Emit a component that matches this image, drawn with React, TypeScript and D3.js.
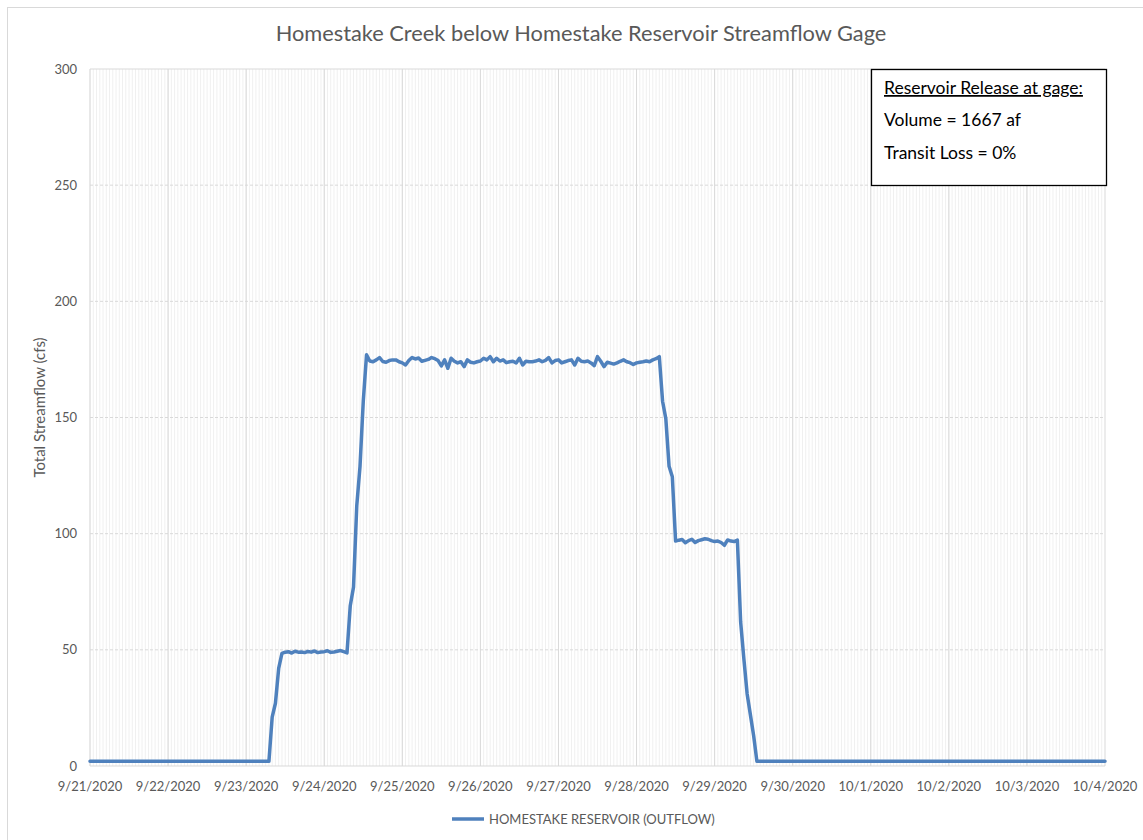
import * as d3 from "d3";

// hourly gage readings (cfs), starting 9/23/2020 07:00
const firstStep = [2, 21, 27, 42, 48.5];
const lowPlateau = [
  49, 49.2, 48.6, 49.4, 49, 49.1, 48.8, 49.3, 49, 49.5,
  48.8, 49.1, 49.2, 49.6, 48.9, 49.1, 49.4, 49.7, 49.2, 48.7,
];
const secondRise = [69, 77, 112, 129, 157];
const highPlateau = [
  177, 174.3, 174, 174.8, 175.8, 174.1, 173.8, 174.5, 174.8, 174.8,
  174, 173.5, 172.6, 174.5, 175.8, 175.2, 175.6, 174.2, 174.6, 175,
  175.8, 175.3, 174.5, 172.2, 174.8, 171.2, 175.5, 174.2, 173.5, 174,
  171.9, 174.8, 173.8, 173.5, 174, 174.3, 175.5, 174.8, 176.2, 174,
  175.5, 174.3, 174.8, 173.6, 174, 174.2, 173.5, 175.5, 172.6, 174.2,
  174, 174, 174.3, 174.8, 174, 174.6, 175.8, 173.5, 174.5, 174.8,
  173.5, 174, 174.5, 174.8, 172.6, 175.5, 174.2, 174, 174.3, 173.5,
  172.3, 176.2, 174.2, 171.9, 173.8, 173.4, 173, 173.5, 174.2, 174.8,
  174, 173.6, 172.8, 173.5, 173.8, 174, 174.3, 174, 174.8, 175.3, 176.2,
];
const firstDrop = [157, 149.5, 129, 124.5];
const midPlateau = [
  96.8, 97.2, 97.5, 96.1, 97, 97.6, 96.2, 97, 97.4, 97.8,
  97.6, 97, 96.6, 96.8, 96.2, 95, 97.3, 96.8, 96.6, 97.2,
];
const finalDrop = [62, 46, 31, 22, 13, 2];

const baseFlow = 2;
const releaseStart = new Date(2020, 8, 23, 7);
const domainStart = new Date(2020, 8, 21);
const domainEnd = new Date(2020, 9, 4);

const yTicks = [0, 50, 100, 150, 200, 250, 300];
const dayLabels = [
  "9/21/2020", "9/22/2020", "9/23/2020", "9/24/2020", "9/25/2020",
  "9/26/2020", "9/27/2020", "9/28/2020", "9/29/2020", "9/30/2020",
  "10/1/2020", "10/2/2020", "10/3/2020", "10/4/2020",
];

const seriesName = "HOMESTAKE RESERVOIR (OUTFLOW)";
const title = "Homestake Creek below Homestake Reservoir Streamflow Gage";
const boxLines = ["Reservoir Release at gage:", "Volume = 1667  af", "Transit Loss = 0%"];

interface Point {
  t: Date;
  v: number;
}

const releaseFlows = [
  ...firstStep, ...lowPlateau, ...secondRise, ...highPlateau,
  ...firstDrop, ...midPlateau, ...finalDrop,
];

const points: Point[] = [
  { t: domainStart, v: baseFlow },
  ...releaseFlows.map((v, i) => ({ t: d3.timeHour.offset(releaseStart, i), v })),
  { t: domainEnd, v: baseFlow },
];

const W = 1143;
const H = 840;
const margin = { top: 69, right: 38, bottom: 74, left: 90 };
const font = "Lato, 'Open Sans', sans-serif";
const grey = "#595959";

export default function App() {
  const x = d3.scaleTime().domain([domainStart, domainEnd]).range([margin.left, W - margin.right]);
  const y = d3.scaleLinear().domain([0, 300]).range([H - margin.bottom, margin.top]);

  const days = d3.timeDay.range(domainStart, d3.timeDay.offset(domainEnd, 1));
  const hours = d3.timeHour.range(domainStart, domainEnd);

  const line = d3
    .line<Point>()
    .x((d) => x(d.t))
    .y((d) => y(d.v));

  const [x0, x1] = x.range();
  const [yb, yt] = y.range();

  return (
    <svg
      width={W}
      height={H}
      style={{ position: "absolute", left: 0, top: 0, background: "#fff" }}
      fontFamily={font}
    >
      <rect x={7.5} y={7.5} width={W + 10} height={H + 10} fill="#fff" stroke="#d9d9d9" />

      <text x={581} y={41} textAnchor="middle" fontSize={21.8} fill={grey}>
        {title}
      </text>

      {/* minor hourly grid */}
      <g stroke="#f0f0f0" strokeWidth={1}>
        {hours.map((h, i) => (
          <line key={i} x1={x(h)} x2={x(h)} y1={yt} y2={yb} />
        ))}
      </g>

      {/* horizontal grid */}
      <g stroke="#d9d9d9" strokeWidth={1}>
        {yTicks.map((t) => (
          <line
            key={t}
            x1={x0}
            x2={x1}
            y1={y(t)}
            y2={y(t)}
            strokeDasharray={t === 0 || t === 300 ? undefined : "3 2"}
          />
        ))}
      </g>

      {/* daily major grid */}
      <g stroke="#d9d9d9" strokeWidth={1}>
        {days.map((d, i) => (
          <line key={i} x1={x(d)} x2={x(d)} y1={yt} y2={yb} />
        ))}
      </g>

      <g fontSize={13} fill={grey} textAnchor="end">
        {yTicks.map((t) => (
          <text key={t} x={x0 - 13} y={y(t) + 4.5}>
            {t}
          </text>
        ))}
      </g>

      <g fontSize={13} fill={grey} textAnchor="middle">
        {days.map((d, i) => (
          <text key={i} x={x(d)} y={yb + 25}>
            {dayLabels[i]}
          </text>
        ))}
      </g>

      <text
        transform={`translate(45,${(yt + yb) / 2 - 10}) rotate(-90)`}
        textAnchor="middle"
        fontSize={15}
        fill={grey}
      >
        Total Streamflow (cfs)
      </text>

      <path
        d={line(points) ?? ""}
        fill="none"
        stroke="#4f81bd"
        strokeWidth={3.5}
        strokeLinejoin="round"
        strokeLinecap="round"
      />

      {/* annotation box */}
      <rect x={871.5} y={69.5} width={235} height={116} fill="#fff" stroke="#000" strokeWidth={1.3} />
      <g fontSize={17.5} fill="#000">
        <text x={884} y={94} textDecoration="underline">
          {boxLines[0]}
        </text>
        <text x={884} y={126}>
          {boxLines[1]}
        </text>
        <text x={884} y={159}>
          {boxLines[2]}
        </text>
      </g>

      {/* legend */}
      <line x1={452} x2={484} y1={819} y2={819} stroke="#4f81bd" strokeWidth={3.5} />
      <text x={489} y={823.5} fontSize={13} fill={grey}>
        {seriesName}
      </text>
    </svg>
  );
}
